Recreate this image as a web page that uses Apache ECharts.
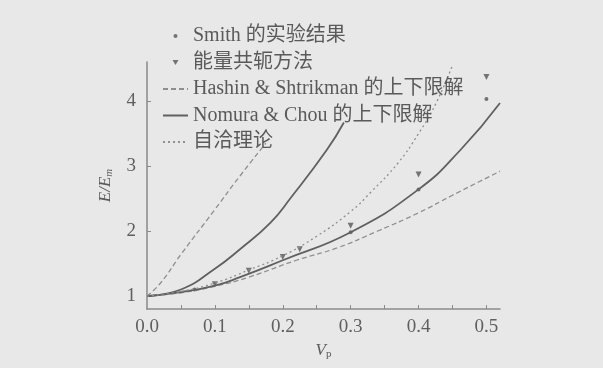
<!DOCTYPE html>
<html>
<head>
<meta charset="utf-8">
<script src="https://cdn.jsdelivr.net/npm/echarts@6/dist/echarts.min.js"></script>
<style>
html,body{margin:0;padding:0;background:#e8e8e8;}
#c{width:603px;height:368px;}
</style>
</head>
<body>
<div id="c"></div>
<script>
// ---- data ----
const xTickLabels = [0, 0.1, 0.2, 0.3, 0.4, 0.5];
const xTicks = [0.05, 0.1, 0.15, 0.2, 0.25, 0.3, 0.35, 0.4, 0.45, 0.5];
const yTickLabels = [1, 2, 3, 4];

const smithData = [[0.07, 1.10], [0.30, 1.98], [0.40, 2.64], [0.50, 4.03]];
const energyData = [[0.10, 1.18], [0.15, 1.39], [0.20, 1.60], [0.225, 1.72], [0.30, 2.08], [0.40, 2.87], [0.50, 4.37]];

const hashinUpper = [[0, 1.0], [0.02, 1.2], [0.05, 1.64], [0.10, 2.33], [0.135, 2.82], [0.175, 3.35]];
const hashinLower = [[0, 1.0], [0.05, 1.05], [0.10, 1.15], [0.15, 1.29], [0.22, 1.55], [0.28, 1.74], [0.34, 2.0], [0.40, 2.28], [0.45, 2.55], [0.52, 2.92]];
const nomuraUpper = [[0, 1.0], [0.05, 1.1], [0.10, 1.42], [0.137, 1.72], [0.182, 2.13], [0.211, 2.5], [0.265, 3.25], [0.29, 3.67]];
const nomuraLower = [[0, 1.0], [0.05, 1.06], [0.10, 1.16], [0.137, 1.29], [0.20, 1.55], [0.30, 1.98], [0.40, 2.64], [0.462, 3.25], [0.52, 3.97]];
const selfConsistent = [[0, 1.0], [0.05, 1.07], [0.10, 1.2], [0.15, 1.4], [0.20, 1.62], [0.25, 1.92], [0.30, 2.3], [0.33, 2.6], [0.37, 3.05], [0.40, 3.5], [0.425, 3.95], [0.45, 4.55]];

const names = {
  smith: 'Smith 的实验结果',
  energy: '能量共轭方法',
  hashin: 'Hashin & Shtrikman 的上下限解',
  nomura: 'Nomura & Chou 的上下限解',
  sc: '自洽理论'
};

const FONT = "'Liberation Serif', 'Noto Sans CJK SC', serif";
const chart = echarts.init(document.getElementById('c'), null, {renderer: 'canvas'});

const dotIcon = 'path://M0,0 M25,14 M10.5,7 a2,2 0 1,0 4,0 a2,2 0 1,0 -4,0 Z';
const triIcon = 'path://M0,0 M25,14 M9.5,4.5 L15.5,4.5 L12.5,9.5 Z';
const hiddenSym = {opacity: 0};

chart.setOption({
  backgroundColor: '#e8e8e8',
  animation: false,
  grid: {left: 147, right: 103, top: 62, bottom: 59},
  legend: {
    orient: 'vertical',
    left: 157,
    top: 21,
    itemWidth: 25,
    itemHeight: 14,
    itemGap: 6.5,
    textStyle: {fontFamily: FONT, fontSize: 20, color: '#5a5a5a'},
    data: [
      {name: names.smith, icon: dotIcon},
      {name: names.energy, icon: triIcon},
      {name: names.hashin, itemStyle: hiddenSym},
      {name: names.nomura, itemStyle: hiddenSym},
      {name: names.sc, itemStyle: hiddenSym}
    ]
  },
  xAxis: {
    type: 'value',
    min: 0,
    max: 0.52,
    name: '{i|V}{s|p}',
    nameLocation: 'middle',
    nameGap: 26,
    nameTextStyle: {
      rich: {
        i: {fontFamily: FONT, fontStyle: 'italic', fontSize: 17, color: '#5a5a5a'},
        s: {fontFamily: FONT, fontSize: 11, color: '#5a5a5a', verticalAlign: 'bottom', padding: [8, 0, 0, 0]}
      }
    },
    axisLine: {lineStyle: {color: '#8a8a8a', width: 1.5}},
    axisTick: {inside: true, length: 4, customValues: xTicks, lineStyle: {color: '#8a8a8a'}},
    axisLabel: {customValues: xTickLabels, formatter: v => v.toFixed(1), margin: 9,
      fontFamily: FONT, fontSize: 19, color: '#5f5f5f'},
    splitLine: {show: false}
  },
  yAxis: {
    type: 'value',
    min: 0.8,
    max: 4.6,
    name: '{i|E/E}{s|m}',
    nameLocation: 'middle',
    nameGap: 32,
    nameRotate: 90,
    nameTextStyle: {
      rich: {
        i: {fontFamily: FONT, fontStyle: 'italic', fontSize: 17, color: '#5a5a5a'},
        s: {fontFamily: FONT, fontStyle: 'italic', fontSize: 11, color: '#5a5a5a', padding: [8, 0, 0, 0]}
      }
    },
    axisLine: {lineStyle: {color: '#8a8a8a', width: 1.5}},
    axisTick: {inside: true, length: 4, customValues: yTickLabels, lineStyle: {color: '#8a8a8a'}},
    axisLabel: {customValues: yTickLabels, margin: 11, fontFamily: FONT, fontSize: 19, color: '#5f5f5f'},
    splitLine: {show: false}
  },
  series: [
    {name: names.hashin, type: 'line', data: hashinUpper, smooth: true, symbol: 'none',
      lineStyle: {color: '#8f8f8f', width: 1.3, type: [5, 3]}, itemStyle: {color: '#8f8f8f'}},
    {name: names.hashin, type: 'line', data: hashinLower, smooth: true, symbol: 'none',
      lineStyle: {color: '#8f8f8f', width: 1.3, type: [5, 3]}, itemStyle: {color: '#8f8f8f'}},
    {name: names.nomura, type: 'line', data: nomuraUpper, smooth: true, symbol: 'none',
      lineStyle: {color: '#606060', width: 1.8}, itemStyle: {color: '#606060'}},
    {name: names.nomura, type: 'line', data: nomuraLower, smooth: true, symbol: 'none',
      lineStyle: {color: '#606060', width: 1.8}, itemStyle: {color: '#606060'}},
    {name: names.sc, type: 'line', data: selfConsistent, smooth: true, symbol: 'none',
      lineStyle: {color: '#8f8f8f', width: 1.3, type: [2, 3]}, itemStyle: {color: '#8f8f8f'}},
    {name: names.smith, type: 'scatter', data: smithData, symbol: 'circle', symbolSize: 4,
      itemStyle: {color: '#555555'}},
    {name: names.energy, type: 'scatter', data: energyData, symbol: 'triangle', symbolRotate: 180, symbolSize: 6,
      itemStyle: {color: '#555555'}}
  ]
});
</script>
</body>
</html>
